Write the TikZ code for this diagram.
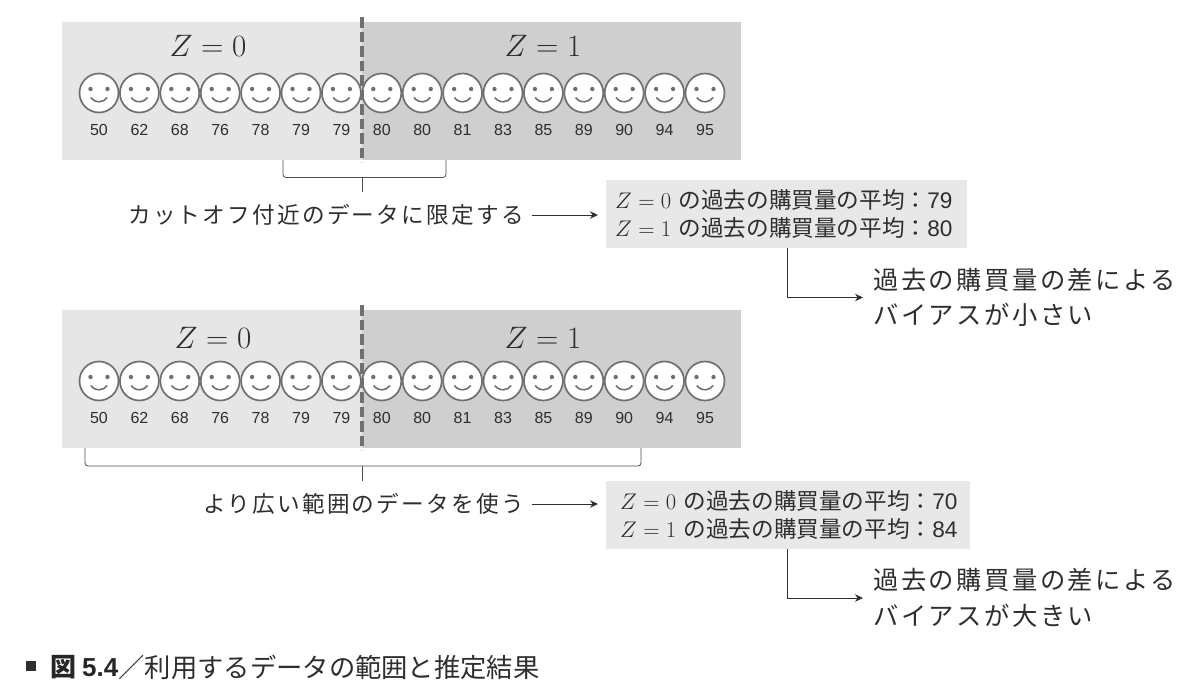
\RequirePackage{fix-cm}
\documentclass[tikz,border=0pt]{standalone}
\usepackage[no-math]{fontspec}
\usepackage{amsmath}
\newfontfamily\cjk{Noto Sans CJK JP}
\newfontfamily\cjkwide[LetterSpace=10]{Noto Sans CJK JP}
\newfontfamily\latin{Liberation Sans}
\usetikzlibrary{arrows.meta}
\definecolor{inkgray}{HTML}{2E2E2E}
\definecolor{panelleft}{HTML}{E6E6E7}
\definecolor{panelright}{HTML}{CFCFD0}
\definecolor{boxgray}{HTML}{E8E8E9}
\definecolor{facegray}{HTML}{707070}
\tikzset{
    facering/.style={circle, draw=facegray, fill=white, line width=1.7pt, minimum size=39pt, inner sep=0pt},
    scorelabel/.style={text=inkgray, font=\latin\fontsize{16}{19}\selectfont},
    zlabel/.style={text=inkgray, font=\fontsize{31}{36}\selectfont},
    leadtext/.style={anchor=west, inner sep=0pt, text=inkgray, font=\cjkwide\fontsize{22.6}{28}\selectfont},
    notetext/.style={anchor=west, inner sep=0pt, align=left, text=inkgray, font=\cjkwide\fontsize{25.3}{35.5}\selectfont},
    sumbox/.style={anchor=north west, fill=boxgray, inner sep=0pt, minimum height=68pt, align=left, text=inkgray, font=\cjk\fontsize{22.6}{27.5}\selectfont},
    thinarrow/.style={draw=inkgray, line width=0.9pt, -{Stealth[length=8pt,width=7.5pt]}},
    bracketline/.style={draw=inkgray!85, line width=0.8pt, rounded corners=3pt},
}
\begin{document}
\begin{tikzpicture}[x=1pt, y=1pt]
    \useasboundingbox (0,0) rectangle (1200,-689);
    \foreach \r/\ytop/\zx/\zy in {A/22/208/24, B/310/213/28} {
        \fill[panelleft] (62,-\ytop) rectangle (362,-\ytop-138);
        \fill[panelright] (362,-\ytop) rectangle (741,-\ytop-138);
        \node[zlabel] (zero\r) at (\zx,-\ytop-\zy) {$Z=0$};
        \node[zlabel] (one\r) at (543,-\ytop-\zy) {$Z=1$};
        \foreach \s [count=\i from 0] in {50,62,68,76,78,79,79,80,80,81,83,85,89,90,94,95} {
            \node[facering] (face\r\i) at (99+40.4*\i,-\ytop-71) {};
            \fill[facegray] (face\r\i.center) ++(-8.5,4) circle (2.2);
            \fill[facegray] (face\r\i.center) ++(8.5,4) circle (2.2);
            \draw[facegray, line width=1.6pt] (face\r\i.center) ++(-8.2,-4.5) arc[start angle=215, end angle=325, radius=10];
            \node[scorelabel] (score\r\i) at (99+40.4*\i,-\ytop-108) {\s};
        }
        \draw[facegray, line width=3.2pt, dash pattern=on 10.5pt off 4pt] (362,-\ytop+5) -- (362,-\ytop-140);
    }

    \coordinate (spanA1) at (283,-160);
    \coordinate (spanA2) at (446,-160);
    \coordinate (barA) at (362,-177.5);
    \coordinate (tipA) at (362,-192);
    \draw[bracketline] (spanA1) -- (spanA1 |- barA) -- (spanA2 |- barA) -- (spanA2);
    \draw[bracketline] (barA) -- (tipA);

    \coordinate (spanB1) at (85,-448);
    \coordinate (spanB2) at (641,-448);
    \coordinate (barB) at (362,-466);
    \coordinate (tipB) at (362,-481);
    \draw[bracketline] (spanB1) -- (spanB1 |- barB) -- (spanB2 |- barB) -- (spanB2);
    \draw[bracketline] (barB) -- (tipB);

    \node[leadtext] (leadA) at (128,-215) {カットオフ付近のデータに限定する};
    \node[leadtext] (leadB) at (203,-504) {より広い範囲のデータを使う};

    \node[sumbox, text width=361pt] (sumA) at (606,-180) {\hspace*{9pt}$Z=0$ の過去の購買量の平均：{\latin 79}\\\hspace*{9pt}$Z=1$ の過去の購買量の平均：{\latin 80}};
    \node[sumbox, text width=364pt] (sumB) at (606,-481) {\hspace*{14pt}$Z=0$ の過去の購買量の平均：{\latin 70}\\\hspace*{14pt}$Z=1$ の過去の購買量の平均：{\latin 84}};

    \draw[thinarrow, shorten <=8pt, shorten >=8pt] (leadA.east) -- (leadA.east -| sumA.west);
    \draw[thinarrow, shorten <=8pt, shorten >=8pt] (leadB.east) -- (leadB.east -| sumB.west);

    \node[notetext] (noteA) at (873,-297.5) {過去の購買量の差による\\バイアスが小さい};
    \node[notetext] (noteB) at (873,-598) {過去の購買量の差による\\バイアスが大きい};

    \coordinate (turnA) at (787,-248);
    \coordinate (turnB) at (787,-549);
    \draw[thinarrow, shorten >=10pt] (turnA) |- (noteA.west);
    \draw[thinarrow, shorten >=10pt] (turnB) |- (noteB.west);

    \node[fill=inkgray, minimum size=10pt, inner sep=0pt] (capmark) at (31,-666) {};
    \node[anchor=west, inner sep=0pt, text=black!85] (capnum) at (50,-667) {\cjk\bfseries\fontsize{26}{30}\selectfont 図 \latin\bfseries 5.4};
    \node[anchor=west, inner sep=0pt, text=inkgray] (captext) at (capnum.east) {\cjk\fontsize{26.3}{30}\selectfont ／利用するデータの範囲と推定結果};
\end{tikzpicture}
\end{document}
